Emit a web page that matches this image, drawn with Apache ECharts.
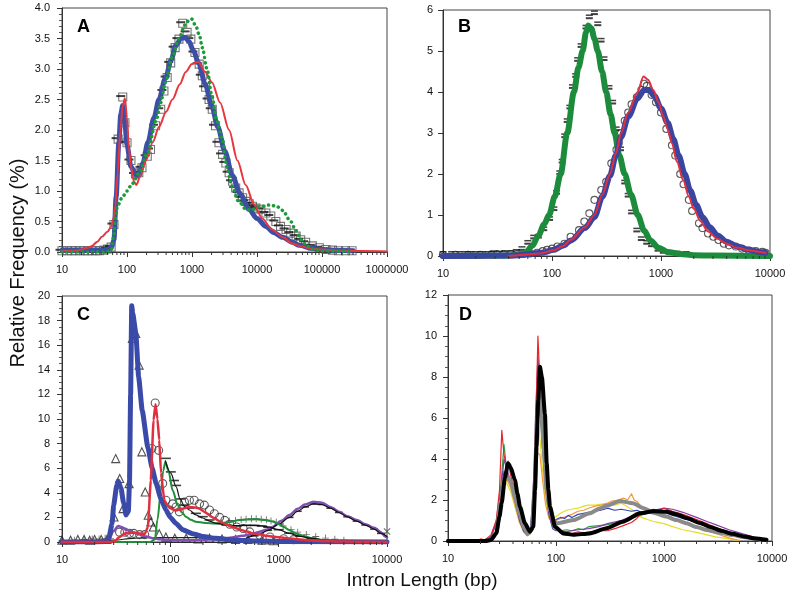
<!DOCTYPE html>
<html><head><meta charset="utf-8">
<script src="https://cdn.jsdelivr.net/npm/echarts/dist/echarts.min.js"></script>
<style>html,body{margin:0;padding:0;background:#fff}#c{width:800px;height:593px}</style>
</head><body><div id="c"></div>
<script>
// ---------- Panel A ----------
const A_blue=[[10,0.03],[20,0.03],[30,0.03],[40,0.03],[50,0.04],[58,0.08],[63,0.2],[68,0.9],[75,1.8],[80,2.25],[86,2.4],[92,2.15],[100,1.75],[115,1.4],[135,1.27],[152,1.25],[175,1.45],[210,1.8],[260,2.2],[310,2.5],[390,2.85],[480,3.15],[560,3.38],[680,3.5],[780,3.52],[900,3.45],[1050,3.3],[1260,3.1],[1600,2.75],[2000,2.4],[2500,2.05],[3200,1.65],[4200,1.25],[5500,0.95],[7500,0.7],[10000,0.55],[13700,0.42],[18000,0.32],[25000,0.24],[35000,0.16],[45000,0.11],[70000,0.06],[100000,0.04],[150000,0.03],[300000,0.02]];
const A_red=[[10,0.02],[15,0.02],[20,0.04],[25,0.07],[29,0.1],[35,0.17],[41,0.25],[50,0.33],[56,0.4],[62,0.55],[66,0.75],[72,1.3],[79,2.0],[86,2.4],[93,2.52],[100,2.2],[107,1.7],[115,1.4],[128,1.15],[140,1.1],[160,1.25],[195,1.5],[250,1.8],[310,2.05],[400,2.3],[500,2.5],[650,2.75],[800,2.95],[1000,3.08],[1250,3.12],[1600,2.95],[2030,2.78],[2700,2.45],[3720,2.0],[5000,1.5],[6700,1.1],[9000,0.78],[12000,0.55],[17000,0.37],[25000,0.24],[35000,0.14],[45000,0.1],[70000,0.05],[100000,0.04],[200000,0.02],[1000000,0.01]];
const A_green=[[10,0.0],[30,0.0],[50,0.0],[58,0.05],[63,0.3],[67,0.6],[71,0.75],[85,0.9],[100,1.0],[120,1.12],[155,1.3],[205,1.62],[282,2.16],[330,2.45],[390,2.78],[500,3.2],[630,3.5],[780,3.72],[900,3.8],[990,3.82],[1150,3.7],[1300,3.55],[1440,3.35],[1700,3.0],[2030,2.55],[2400,2.15],[2950,1.84],[3400,1.4],[4170,1.07],[5200,0.83],[6900,0.69],[8500,0.7],[11000,0.74],[15500,0.77],[20000,0.75],[25000,0.68],[32000,0.52],[40000,0.35],[48000,0.2],[56000,0.12],[70000,0.05],[100000,0.02],[300000,0.01]];
const A_sq=[[10,0.02],[12,0.02],[14,0.02],[16,0.02],[19,0.02],[22,0.02],[25,0.02],[29,0.02],[33,0.02],[38,0.02],[44,0.03],[50,0.05],[57,0.08],[63,0.45],[73,1.85],[86,2.54],[93,2.12],[100,1.79],[115,1.5],[135,1.28],[152,1.3],[170,1.38],[205,1.57],[230,1.68],[275,2.07],[330,2.34],[370,2.64],[415,2.86],[470,3.1],[550,3.35],[630,3.49],[720,3.75],[840,3.6],[960,3.49],[1110,3.27],[1290,3.08],[1440,2.89],[1620,2.7],[1830,2.5],[2050,2.34],[2300,2.07],[2600,1.79],[2950,1.6],[3320,1.46],[3730,1.3],[4200,1.16],[4700,1.05],[5300,0.97],[6000,0.89],[6700,0.83],[7600,0.79],[8500,0.75],[9600,0.72],[11500,0.7],[13700,0.64],[16300,0.59],[19500,0.5],[23000,0.42],[28000,0.37],[33000,0.31],[40000,0.26],[47000,0.2],[56000,0.16],[71000,0.1],[91000,0.07],[115000,0.04],[145000,0.03],[180000,0.02],[230000,0.02],[290000,0.02]];
// ---------- Panel B ----------
const B_green=[[10,0],[40,0.01],[50,0.04],[58,0.1],[66,0.25],[75,0.5],[85,0.78],[94,1.0],[106,1.45],[120,2.0],[138,3.0],[159,4.0],[175,4.6],[191,5.0],[205,5.45],[215,5.62],[230,5.55],[245,5.3],[263,5.0],[288,4.5],[314,4.0],[345,3.45],[375,3.0],[415,2.45],[464,2.0],[530,1.5],[613,1.0],[700,0.62],[800,0.38],[950,0.2],[1150,0.1],[1500,0.05],[2000,0.02],[3000,0.01],[10000,0]];
const B_blue=[[10,0],[40,0.01],[50,0.02],[63,0.05],[80,0.08],[104,0.15],[125,0.25],[150,0.38],[200,0.68],[245,0.95],[290,1.45],[340,1.95],[385,2.45],[430,2.9],[500,3.4],[610,3.85],[700,4.05],[780,4.05],[870,3.9],[1000,3.6],[1150,3.25],[1300,2.85],[1450,2.45],[1650,2.0],[1850,1.6],[2100,1.25],[2400,0.95],[2800,0.7],[3300,0.5],[4000,0.35],[5000,0.23],[6400,0.15],[8000,0.1],[9100,0.08]];
const B_red=[[40,0],[50,0.02],[63,0.04],[80,0.07],[104,0.14],[125,0.24],[150,0.4],[200,0.7],[245,1.0],[290,1.5],[340,2.0],[385,2.5],[430,3.0],[500,3.5],[610,4.0],[690,4.38],[760,4.3],[850,4.05],[950,3.75],[1050,3.4],[1150,3.1],[1260,2.75],[1400,2.3],[1600,1.85],[1800,1.45],[2000,1.15],[2300,0.85],[2700,0.6],[3300,0.42],[4000,0.3],[5000,0.2],[6400,0.14],[8000,0.1],[9100,0.08]];
const B_dash=[[10,0.03],[12,0.03],[14,0.03],[16,0.03],[18,0.03],[20,0.03],[23,0.03],[26,0.03],[29,0.04],[33,0.04],[37,0.05],[42,0.05],[47,0.08],[53,0.15],[60,0.3],[68,0.43],[75,0.45],[84,0.63],[95,0.88],[104,1.12],[110,1.52],[118,2.0],[124,2.28],[131,2.9],[138,3.27],[146,3.6],[154,4.1],[165,4.37],[172,4.76],[185,5.1],[205,5.55],[220,5.8],[245,5.9],[263,5.63],[282,5.23],[300,4.78],[333,4.08],[360,3.72],[387,3.07],[425,2.58],[465,1.77],[500,1.45],[537,1.04],[600,0.6],[660,0.39],[740,0.3],[820,0.24],[940,0.13],[1050,0.08],[1200,0.05],[1400,0.04],[1700,0.03]];
const B_circ=[[10,0.03],[13,0.03],[17,0.03],[22,0.03],[28,0.04],[31,0.05],[36,0.04],[42,0.05],[48,0.05],[55,0.05],[63,0.06],[73,0.08],[82,0.12],[90,0.15],[100,0.18],[112,0.23],[130,0.3],[148,0.47],[177,0.63],[198,0.84],[220,1.04],[245,1.37],[283,1.61],[314,1.81],[350,2.26],[390,2.59],[410,2.75],[430,3.0],[465,3.3],[500,3.5],[537,3.7],[600,3.87],[660,4.05],[700,4.2],[740,4.15],[820,3.93],[900,3.75],[1000,3.5],[1120,3.1],[1260,2.7],[1350,2.45],[1500,2.0],[1610,1.75],[1800,1.37],[1930,1.1],[2230,0.8],[2400,0.68],[2700,0.55],[3020,0.47],[3370,0.39],[3770,0.3],[4200,0.26],[4850,0.23],[5530,0.18],[6400,0.13],[7400,0.12],[8500,0.1],[9100,0.08]];
// ---------- Panel C ----------
const C_blue=[[10,0],[20,0],[25,0.05],[27,0.3],[29,1.5],[30,3.0],[32,4.6],[33,4.95],[35,4.4],[37,3.2],[39,2.2],[41,2.5],[42,5],[43,12],[44,19.2],[45,18.6],[48,17],[51,13.4],[55,10.7],[62,7.7],[68,6.0],[74,4.75],[82,3.5],[91,2.6],[100,2.0],[113,1.5],[130,1.0],[161,0.68],[200,0.45],[263,0.3],[400,0.15],[600,0.08],[1000,0.04],[10000,0]];
const C_red=[[10,0],[30,0],[34,0.4],[38,0.7],[45,0.75],[52,0.7],[58,0.65],[62,1.2],[66,5.0],[70,9.9],[73,11.2],[76,10],[79,8.3],[82,5.6],[88,3.4],[95,2.9],[100,2.75],[110,2.6],[120,2.62],[135,2.75],[150,2.85],[170,2.8],[187,2.7],[210,2.4],[247,2.0],[290,1.65],[330,1.4],[380,1.2],[440,1.0],[510,0.85],[580,0.7],[680,0.6],[770,0.5],[900,0.42],[1100,0.35],[1300,0.28],[1580,0.2],[2000,0.12],[2500,0.08],[3500,0.05],[5000,0.02],[10000,0]];
const C_green=[[10,0],[65,0],[72,0.2],[76,1.8],[82,4.2],[86,5.8],[90,6.53],[96,5.8],[105,4.2],[117,3.0],[128,2.4],[139,2.06],[155,1.8],[172,1.65],[210,1.55],[265,1.5],[340,1.6],[435,1.78],[520,1.83],[620,1.84],[750,1.78],[890,1.66],[1000,1.45],[1100,1.25],[1250,0.98],[1450,0.7],[1750,0.45],[2070,0.3],[2600,0.15],[3500,0.06],[5000,0.03],[10000,0.01]];
const C_purple=[[10,0],[25,0],[27,0.2],[30,0.9],[33,1.3],[36,1.2],[39,1.0],[45,0.8],[52,0.6],[60,0.45],[69,0.3],[80,0.22],[91,0.18],[120,0.15],[160,0.15],[200,0.18],[263,0.22],[330,0.3],[383,0.38],[460,0.5],[560,0.65],[650,0.8],[770,1.0],[890,1.25],[1050,1.7],[1260,2.2],[1500,2.7],[1750,3.05],[2090,3.28],[2500,3.2],[3000,2.85],[3600,2.46],[4300,2.1],[5240,1.79],[6300,1.45],[7600,1.15],[8800,0.8],[9600,0.45],[10000,0.35]];
const C_black1=[[90,6.6],[101,5.6],[113,4.5],[123,3.5],[135,2.9],[150,2.6],[172,2.2],[199,1.95],[230,1.7],[265,1.52],[330,1.38],[410,1.33],[500,1.35],[600,1.35],[700,1.32],[800,1.22],[1000,1.0],[1250,0.7],[1580,0.45],[2000,0.3],[2800,0.15],[4000,0.06],[10000,0.01]];
const C_black2=[[500,0.3],[650,0.6],[800,0.95],[1000,1.45],[1260,2.0],[1500,2.5],[1750,2.85],[2090,3.1],[2500,3.05],[3000,2.75],[3600,2.4],[4300,2.05],[5240,1.7],[6300,1.38],[7600,1.05],[8800,0.7],[10000,0.45]];
const C_black3=[[10,0.1],[30,0.15],[45,0.3],[60,0.35],[100,0.35],[200,0.35],[400,0.25],[700,0.2],[1000,0.15],[3000,0.1],[10000,0.05]];
const C_tri=[[10,0.15],[12,0.15],[14,0.2],[16,0.2],[18,0.15],[20,0.2],[23,0.2],[26,0.2],[30.2,2.03],[31.3,6.78],[34.1,5.16],[36.6,2.71],[41.6,4.75],[44.6,16.55],[47.9,16.96],[51.5,14.38],[54.6,7.33],[58.6,4.07],[62.5,2.17],[66,1.63],[69.6,1.22],[79,0.68],[91,0.4],[110,0.3],[140,0.3],[180,0.25],[230,0.3],[300,0.25],[400,0.2],[520,0.2],[700,0.15],[900,0.1]];
const C_circ=[[34,0.8],[38,0.8],[42,0.7],[46,0.7],[52,0.6],[58,0.6],[67.5,7.6],[72.5,11.3],[78,7.45],[85,4.75],[91,3.4],[98,2.6],[105,3.1],[113,2.85],[121,2.45],[135,3.25],[150,3.4],[166,3.4],[186,3.1],[206,3.0],[230,2.6],[255,2.3],[285,2.0],[318,1.76],[354,1.44],[410,1.22],[470,1.1],[540,0.82],[670,0.54],[830,0.41],[1110,0.27],[1370,0.19]];
const C_gdash=[[91,6.8],[101,5.7],[108,5.0],[113,4.6],[123,3.5],[135,3.0],[150,2.76],[172,2.33],[199,2.06],[230,1.79],[265,1.52],[330,1.38],[410,1.3],[500,1.35],[600,1.35],[700,1.3],[800,1.2],[1000,1.0],[1250,0.72],[1580,0.48],[2000,0.3]];
const C_plus=[[10,0.1],[13,0.15],[16,0.2],[19,0.25],[22,0.25],[25,0.3],[28,0.3],[300,1.6],[350,1.7],[400,1.75],[450,1.8],[500,1.85],[560,1.9],[620,1.9],[690,1.85],[770,1.8],[850,1.7],[950,1.6],[1100,1.3],[1300,1.0],[1500,0.8],[1800,0.6],[2200,0.45],[2700,0.32],[3300,0.22],[4000,0.15]];
const C_pdash=[[600,0.5],[800,0.95],[1000,1.45],[1260,2.0],[1500,2.5],[1750,2.85],[2090,3.1],[2500,3.05],[3000,2.75],[3600,2.4],[4300,2.05],[5240,1.7],[6300,1.38],[7600,1.05],[8800,0.7]];
const C_x=[[10000,0.85]];
// ---------- Panel D ----------
const D_black=[[10,0],[22,0],[25,0.05],[28,0.37],[30,1.2],[31.4,1.84],[33.7,3.1],[36,3.79],[38,3.6],[41.7,2.97],[44,2.3],[46.4,1.67],[51.6,0.86],[57.5,0.45],[61.6,0.7],[64,2.5],[66,4.6],[68.6,6.9],[71,8.5],[74,8.0],[79,6.2],[82,3.8],[85,2.5],[88,1.67],[98,0.7],[117,0.37],[145,0.3],[205,0.37],[294,0.62],[415,0.94],[600,1.35],[800,1.45],[1050,1.43],[1300,1.3],[1620,1.12],[2150,0.88],[2700,0.68],[3400,0.5],[4300,0.35],[5500,0.22],[7000,0.12],[8900,0.06]];
const D_gray=[[10,0],[22,0],[25,0.05],[28,0.4],[31,2.0],[33,3.0],[35,3.2],[38,2.9],[42,2.1],[46,1.3],[51,0.6],[55,0.35],[60,0.6],[64,3.0],[67,6.0],[70,7.3],[73,6.5],[77,4.5],[82,2.5],[88,1.5],[95,1.0],[101,0.86],[145,1.02],[205,1.35],[257,1.6],[294,1.72],[390,1.95],[515,1.84],[650,1.6],[800,1.38],[1050,1.19],[1300,1.02],[1620,0.86],[2000,0.68],[2460,0.54],[3300,0.4],[4370,0.29],[5400,0.2],[6600,0.13],[7800,0.06]];
const D_red=[[10,0],[18,0],[20,0.1],[22,0.05],[25,0.3],[28,1.0],[30,2.5],[31.5,5.4],[33,4.2],[35,3.6],[36,3.9],[38,3.2],[41,2.6],[44,1.8],[48,1.0],[52,0.5],[56,0.35],[60,0.6],[63,3.0],[66,7.0],[68,10.0],[70,8.5],[73,6.8],[77,4.5],[81,2.8],[86,1.6],[92,0.9],[100,0.6],[110,0.5],[125,0.45],[140,0.35],[160,0.45],[180,0.4],[210,0.45],[250,0.5],[300,0.5],[350,0.6],[420,0.75],[500,0.9],[560,1.1],[620,1.35],[700,1.5],[800,1.55],[900,1.5],[1000,1.6],[1200,1.45],[1500,1.3],[2000,1.05],[2500,0.85],[3000,0.65],[4000,0.45],[5000,0.32],[6000,0.22],[7000,0.15],[8000,0.08]];
const D_orange=[[10,0],[22,0],[25,0.2],[28,0.8],[31,2.0],[33,2.8],[35,3.0],[38,2.6],[42,1.7],[46,0.9],[50,0.45],[54,0.25],[58,0.35],[62,1.5],[65,3.5],[68,4.3],[71,4.2],[75,3.0],[80,1.8],[86,1.1],[93,0.9],[100,1.0],[110,1.1],[125,1.2],[140,1.3],[160,1.45],[180,1.5],[200,1.6],[230,1.7],[260,1.75],[300,1.85],[330,1.95],[380,2.0],[420,2.1],[460,2.0],[500,2.3],[530,2.0],[570,1.9],[620,1.65],[700,1.5],[800,1.45],[900,1.35],[1000,1.3],[1200,1.1],[1500,0.95],[2000,0.7],[2500,0.5],[3000,0.38],[3500,0.25],[4000,0.15],[4500,0.08],[5000,0.03]];
const D_yellow=[[10,0],[22,0],[25,0.2],[28,0.9],[31,2.3],[33,3.0],[35,2.8],[38,2.4],[42,1.6],[46,0.9],[50,0.5],[54,0.35],[58,0.5],[62,2.0],[65,4.5],[68,5.8],[71,5.0],[75,3.5],[80,2.0],[86,1.3],[93,1.1],[100,1.2],[110,1.35],[125,1.5],[140,1.55],[160,1.6],[180,1.7],[200,1.75],[230,1.75],[260,1.8],[300,1.8],[350,1.75],[400,1.85],[450,1.7],[500,1.55],[560,1.35],[620,1.15],[700,1.05],[800,0.95],[900,0.9],[1000,0.85],[1200,0.7],[1500,0.55],[2000,0.42],[2500,0.3],[3000,0.2],[4000,0.1],[5000,0.02]];
const D_green=[[10,0],[22,0],[25,0.2],[28,1.0],[31,2.8],[33,4.7],[35,3.4],[38,2.8],[42,2.0],[46,1.1],[50,0.55],[54,0.35],[58,0.5],[62,2.5],[65,5.5],[68,7.5],[71,6.5],[75,4.5],[80,2.5],[86,1.3],[93,0.7],[100,0.55],[110,0.5],[125,0.55],[140,0.5],[160,0.6],[180,0.55],[200,0.7],[250,0.75],[300,0.8],[400,0.95],[500,1.1],[600,1.25],[700,1.35],[800,1.4],[1000,1.42],[1200,1.35],[1500,1.2],[2000,0.95],[2500,0.75],[3000,0.58],[4000,0.38],[5000,0.25],[6000,0.15],[7000,0.08]];
const D_blue=[[10,0],[22,0],[25,0.2],[28,0.9],[31,2.4],[33,3.4],[35,3.2],[38,2.8],[42,1.9],[46,1.0],[50,0.5],[54,0.3],[58,0.45],[62,2.2],[65,5.0],[68,8.0],[71,6.8],[75,4.8],[80,2.7],[86,1.4],[93,1.0],[100,1.05],[110,1.15],[120,1.1],[130,1.25],[140,1.15],[160,1.3],[180,1.35],[200,1.4],[230,1.45],[260,1.5],[300,1.6],[350,1.5],[400,1.55],[450,1.5],[500,1.45],[560,1.5],[620,1.4],[700,1.35],[800,1.4],[1000,1.4],[1200,1.25],[1500,1.1],[2000,0.9],[2500,0.7],[3000,0.55],[4000,0.35],[5000,0.25],[6000,0.15],[7000,0.1],[8000,0.05]];
const D_purple=[[10,0],[22,0],[25,0.2],[28,0.9],[31,2.5],[33,4.0],[35,3.5],[38,2.9],[42,2.0],[46,1.1],[50,0.55],[54,0.35],[58,0.5],[62,2.8],[65,6.5],[68,9.0],[71,7.5],[75,5.0],[80,2.8],[86,1.3],[93,0.6],[100,0.5],[110,0.5],[125,0.45],[140,0.5],[160,0.55],[200,0.6],[250,0.7],[300,0.85],[400,1.0],[500,1.2],[600,1.3],[700,1.4],[800,1.5],[1000,1.6],[1200,1.55],[1500,1.4],[2000,1.15],[2500,0.95],[3000,0.8],[4000,0.55],[5000,0.4],[6000,0.28],[7000,0.18],[8000,0.12],[8500,0.08]];

// axis ranges / tick labels
const xMax=[1000000,10000,10000,10000];
const yMax=[4,6,20,12];
const yInterval=[0.5,1,2,2];
const yMinorSplit=[5,0,4,4];
const panelLetters=['A','B','C','D'];

function minorVals(max){const out=[];for(let d=10;d<max;d*=10){for(let k=2;k<=9;k++)out.push(d*k);}return out;}

const FONT='Liberation Sans, Arial, sans-serif';
const grids=[
 {left:62,top:8,width:325,height:244},
 {left:443,top:10,width:327,height:246},
 {left:62,top:296,width:325,height:246},
 {left:448,top:295,width:324,height:246}
].map(g=>Object.assign(g,{show:true,borderColor:'#444',borderWidth:1,backgroundColor:'transparent',containLabel:false}));

const xAxes=xMax.map((m,i)=>({type:'log',logBase:10,min:10,max:m,gridIndex:i,
 axisLine:{lineStyle:{color:'#333',width:1}},
 axisTick:{length:5,lineStyle:{color:'#333'}},
 axisLabel:{color:'#111',fontSize:11,fontFamily:FONT,margin:12,formatter:v=>String(Math.round(v))},
 splitLine:{show:false}}));
const yAxes=yMax.map((m,i)=>({type:'value',min:0,max:m,interval:yInterval[i],gridIndex:i,
 axisLine:{show:true,lineStyle:{color:'#333',width:1}},
 axisTick:{show:true,length:5,lineStyle:{color:'#333'}},
 minorTick:{show:yMinorSplit[i]>0,splitNumber:yMinorSplit[i]||5,length:3,lineStyle:{color:'#555'}},
 axisLabel:{color:'#111',fontSize:11,fontFamily:FONT,margin:[12,10,12,11][i],formatter:v=>i===0?v.toFixed(1):String(Math.round(v))},
 splitLine:{show:false}}));

function line(i,data,color,width,extra){return Object.assign({type:'line',xAxisIndex:i,yAxisIndex:i,data,symbol:'none',showSymbol:false,silent:true,animation:false,
 lineStyle:{color,width,join:'round',cap:'round'},smooth:0.3,smoothMonotone:'x'},extra||{});}
function pts(i,data,symbol,size,style,extra){return Object.assign({type:'scatter',xAxisIndex:i,yAxisIndex:i,data,symbol,symbolSize:size,silent:true,animation:false,itemStyle:style},extra||{});}
const hollow=c=>({color:'rgba(255,255,255,0)',borderColor:c,borderWidth:1.1});
const DASH='rect';
const PLUS='path://M4.4,0H5.6V4.4H10V5.6H5.6V10H4.4V5.6H0V4.4H4.4Z';
const XS='path://M1,0L5,4L9,0L10,1L6,5L10,9L9,10L5,6L1,10L0,9L4,5L0,1Z';

function minorTickSeries(i){return {type:'custom',xAxisIndex:i,yAxisIndex:i,silent:true,animation:false,clip:false,z:10,
 data:minorVals(xMax[i]).map(v=>[v,0]),
 renderItem:(p,api)=>{const c=api.coord([api.value(0),0]);return {type:'line',shape:{x1:c[0],y1:c[1],x2:c[0],y2:c[1]+3},style:{stroke:'#333',lineWidth:1}};}};}

const series=[
 // A
 line(0,A_blue,'#3d4ea6',5),
 line(0,A_red,'#e8363e',2),
 pts(0,A_sq,'rect',8,hollow('#555')),
 pts(0,A_sq,DASH,[9,2],{color:'#111'},{symbolOffset:[-2,-1]}),
 line(0,A_green,'#1b9a3a',3.5,{lineStyle:{color:'#1b9a3a',width:3.5,type:[0.1,5],cap:'round'}}),
 // B
 line(1,B_green,'#1c8c3c',6),
 line(1,B_blue,'#3a45a0',6),
 line(1,B_red,'#e03040',2),
 pts(1,B_circ,'circle',7,hollow('#333')),
 pts(1,B_dash,DASH,[7,2],{color:'#111'}),
 pts(1,B_dash,DASH,[7,1.5],{color:'#111'},{symbolOffset:[0,-3]}),
 // C
 line(2,C_black3,'#222',1.2),
 line(2,C_purple,'#8050b0',2.5),
 line(2,C_black2,'#111',1.2),
 line(2,C_green,'#1f8f3a',2),
 line(2,C_black1,'#111',1.2),
 line(2,C_blue,'#3a4aa8',5,{smooth:0.15}),
 line(2,C_red,'#e03040',2.5,{smooth:0.15}),
 pts(2,C_tri,'triangle',8,hollow('#222')),
 pts(2,C_circ,'circle',8,hollow('#333')),
 pts(2,C_gdash,DASH,[10,1.6],{color:'#111'}),
 pts(2,C_pdash,DASH,[8,1.6],{color:'#111'}),
 pts(2,C_plus,PLUS,7,{color:'#444'}),
 pts(2,C_x,XS,7,{color:'#444'}),
 // D
 line(3,D_yellow,'#e6dc2a',1.2,{smooth:false}),
 line(3,D_orange,'#f39a3c',1.2,{smooth:false}),
 line(3,D_green,'#2f9e44',1.2,{smooth:false}),
 line(3,D_blue,'#3546b5',1.2,{smooth:false}),
 line(3,D_purple,'#7e3fa8',1.2,{smooth:false}),
 line(3,D_red,'#e8262a',1.2,{smooth:false}),
 line(3,D_gray,'#8a8a8a',4,{smooth:0.2}),
 line(3,D_black,'#000',4,{smooth:0.2}),
 minorTickSeries(0),minorTickSeries(1),minorTickSeries(2),minorTickSeries(3)
];

const letterPos=[[77,18],[458,18],[77,306],[459,306]];
const graphic=[
 ...panelLetters.map((t,i)=>({type:'text',left:letterPos[i][0],top:letterPos[i][1],style:{text:t,font:'bold 18px '+FONT,fill:'#000'}})),
 {type:'text',x:18,y:263,rotation:Math.PI/2,style:{text:'Relative Frequency (%)',font:'20px '+FONT,fill:'#111',textAlign:'center',textVerticalAlign:'middle'}},
 {type:'text',x:422,y:581,style:{text:'Intron Length (bp)',font:'19px '+FONT,fill:'#111',textAlign:'center',textVerticalAlign:'middle'}}
];

const chart=echarts.init(document.getElementById('c'),null,{renderer:'canvas'});
chart.setOption({animation:false,backgroundColor:'#fff',grid:grids,xAxis:xAxes,yAxis:yAxes,series,graphic});
</script></body></html>
